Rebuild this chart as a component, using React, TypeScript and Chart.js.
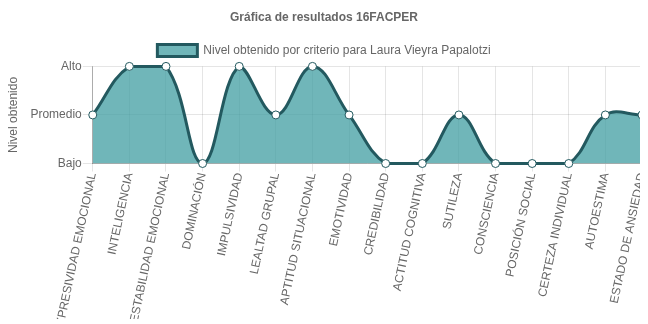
import React, { useEffect, useRef } from "react";
import { Chart, registerables } from "chart.js";

Chart.register(...registerables);

const categories = [
  "EXPRESIVIDAD EMOCIONAL",
  "INTELIGENCIA",
  "ESTABILIDAD EMOCIONAL",
  "DOMINACIÓN",
  "IMPULSIVIDAD",
  "LEALTAD GRUPAL",
  "APTITUD SITUACIONAL",
  "EMOTIVIDAD",
  "CREDIBILIDAD",
  "ACTITUD COGNITIVA",
  "SUTILEZA",
  "CONSCIENCIA",
  "POSICIÓN SOCIAL",
  "CERTEZA INDIVIDUAL",
  "AUTOESTIMA",
  "ESTADO DE ANSIEDAD",
];

const levels = [2, 3, 3, 1, 3, 2, 3, 2, 1, 1, 2, 1, 1, 1, 2, 2];

const levelLabels: Record<number, string> = { 1: "Bajo", 2: "Promedio", 3: "Alto" };

const titleText = "Gráfica de resultados 16FACPER";
const seriesName = "Nivel obtenido por criterio para Laura Vieyra Papalotzi";
const yTitle = "Nivel obtenido";

export default function App() {
  const ref = useRef<HTMLCanvasElement>(null);
  useEffect(() => {
    if (!ref.current) return;
    document.body.style.overflow = "hidden";
    Chart.defaults.font.family = "'Liberation Sans', Arial, sans-serif";
    Chart.defaults.font.size = 12;
    Chart.defaults.color = "#666";
    const chart = new Chart(ref.current, {
      type: "line",
      data: {
        labels: categories,
        datasets: [
          {
            label: seriesName,
            data: levels,
            fill: true,
            tension: 0.4,
            clip: false,
            backgroundColor: "rgba(64, 158, 162, 0.75)",
            borderColor: "#23595F",
            borderWidth: 3,
            pointBackgroundColor: "#ffffff",
            pointBorderColor: "#23595F",
            pointBorderWidth: 1,
            pointRadius: 4,
          },
        ],
      },
      options: {
        animation: false,
        responsive: true,
        maintainAspectRatio: false,
        layout: { padding: { left: 6, right: 6, top: 0, bottom: 5 } },
        plugins: {
          title: {
            display: true,
            text: titleText,
            font: { size: 12, weight: "bold" },
            color: "#666",
            padding: { top: 2, bottom: 10 },
          },
          legend: {
            display: true,
            labels: {
              boxWidth: 40,
              boxHeight: 12,
              color: "#666",
              font: { size: 12 },
              padding: 10,
            },
          },
          tooltip: { enabled: false },
        },
        scales: {
          x: {
            offset: false,
            afterFit: (scale: any) => {
              scale.paddingRight = 0;
            },
            grid: { color: "rgba(0,0,0,0.1)", tickLength: 8 },
            border: { color: "rgba(0,0,0,0.25)" },
            ticks: {
              minRotation: 78,
              maxRotation: 78,
              autoSkip: false,
              color: "#666",
              font: { size: 12 },
              padding: 0,
            },
          },
          y: {
            min: 1,
            max: 3,
            grid: { color: "rgba(0,0,0,0.1)", tickLength: 10 },
            border: { color: "rgba(0,0,0,0.25)" },
            ticks: {
              stepSize: 1,
              color: "#666",
              font: { size: 12 },
              padding: 1,
              callback: (v: any) => levelLabels[v as number] ?? "",
            },
            title: {
              display: true,
              text: yTitle,
              color: "#666",
              font: { size: 12 },
              padding: { top: 0, bottom: 9 },
            },
          },
        },
      },
    });
    return () => chart.destroy();
  }, []);
  return (
    <div style={{ width: 648, height: 316, marginLeft: -8 }}>
      <canvas ref={ref} />
    </div>
  );
}
